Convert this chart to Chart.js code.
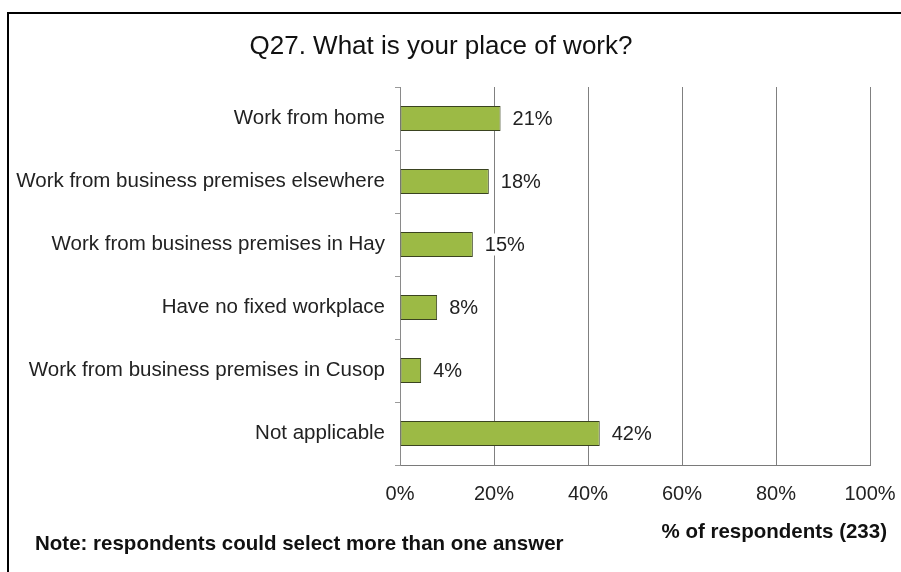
<!DOCTYPE html>
<html>
<head>
<meta charset="utf-8">
<script src="https://cdn.jsdelivr.net/npm/chart.js@4/dist/chart.umd.min.js"></script>
<style>
  html, body { margin: 0; padding: 0; background: #fff; }
  canvas { display: block; }
</style>
</head>
<body>
<canvas id="placeOfWork" width="901" height="572"></canvas>
<script>
const categories = [
    'Work from home',
    'Work from business premises elsewhere',
    'Work from business premises in Hay',
    'Have no fixed workplace',
    'Work from business premises in Cusop',
    'Not applicable'
];
const percentValues = [21.4, 18.9, 15.5, 7.9, 4.5, 42.5];
const valueLabels = ['21%', '18%', '15%', '8%', '4%', '42%'];
const xTicks = [0, 20, 40, 60, 80, 100];

const chartTitle = 'Q27. What is your place of work?';
const axisTitle = '% of respondents (233)';
const noteText = 'Note: respondents could select more than one answer';

const FONT = '"Liberation Sans", Arial, sans-serif';

// frame, title, notes and bar value labels
const extras = {
    id: 'extras',
    afterDraw(chart) {
        const ctx = chart.ctx;
        ctx.save();
        ctx.fillStyle = '#000';
        ctx.fillRect(7, 12, 894, 2);
        ctx.fillRect(7, 12, 2, 560);

        ctx.fillStyle = '#111';
        ctx.textBaseline = 'middle';
        ctx.textAlign = 'center';
        ctx.font = '26px ' + FONT;
        ctx.fillText(chartTitle, 441, 47);

        ctx.font = 'bold 20.5px ' + FONT;
        ctx.textAlign = 'right';
        ctx.fillText(axisTitle, 887, 532);
        ctx.textAlign = 'left';
        ctx.fillText(noteText, 35, 544);

        const meta = chart.getDatasetMeta(0);
        ctx.font = '20px ' + FONT;
        meta.data.forEach((bar, i) => {
            const w = ctx.measureText(valueLabels[i]).width;
            ctx.fillStyle = '#fff';
            ctx.fillRect(bar.x + 10, bar.y - 11, w + 4, 22);
            ctx.fillStyle = '#222';
            ctx.fillText(valueLabels[i], bar.x + 12, bar.y + 1);
        });
        ctx.restore();
    }
};

new Chart(document.getElementById('placeOfWork'), {
    type: 'bar',
    data: {
        labels: categories,
        datasets: [{
            label: '% of respondents',
            data: percentValues,
            backgroundColor: '#9cba45',
            borderColor: '#3a4320',
            borderWidth: 1,
            borderSkipped: false,
            barPercentage: 0.8,
            categoryPercentage: 0.5
        }]
    },
    options: {
        indexAxis: 'y',
        responsive: false,
        animation: false,
        devicePixelRatio: 1,
        layout: {
            padding: { top: 87, right: 31, left: 0, bottom: 27 }
        },
        plugins: {
            legend: { display: false },
            title: { display: false },
            tooltip: { enabled: false }
        },
        scales: {
            x: {
                min: 0,
                max: 100,
                afterFit(scale) {
                    scale.height = 80;
                    scale.paddingLeft = 0;
                    scale.paddingRight = 0;
                },
                afterBuildTicks(scale) {
                    scale.ticks = xTicks.map(v => ({ value: v }));
                },
                grid: {
                    color: '#808080',
                    lineWidth: 1,
                    drawTicks: false
                },
                border: { color: '#7a7a7a', width: 1 },
                ticks: {
                    padding: 17,
                    color: '#222',
                    font: { size: 20, family: FONT },
                    callback: v => v + '%'
                }
            },
            y: {
                afterFit(scale) { scale.width = 400; },
                grid: {
                    drawOnChartArea: false,
                    offset: true,
                    tickLength: 5,
                    color: '#9a9a9a'
                },
                border: { color: '#8a8a8a', width: 1 },
                ticks: {
                    padding: 10,
                    color: '#222',
                    font: { size: 20.5, family: FONT }
                }
            }
        }
    },
    plugins: [extras]
});
</script>
</body>
</html>
